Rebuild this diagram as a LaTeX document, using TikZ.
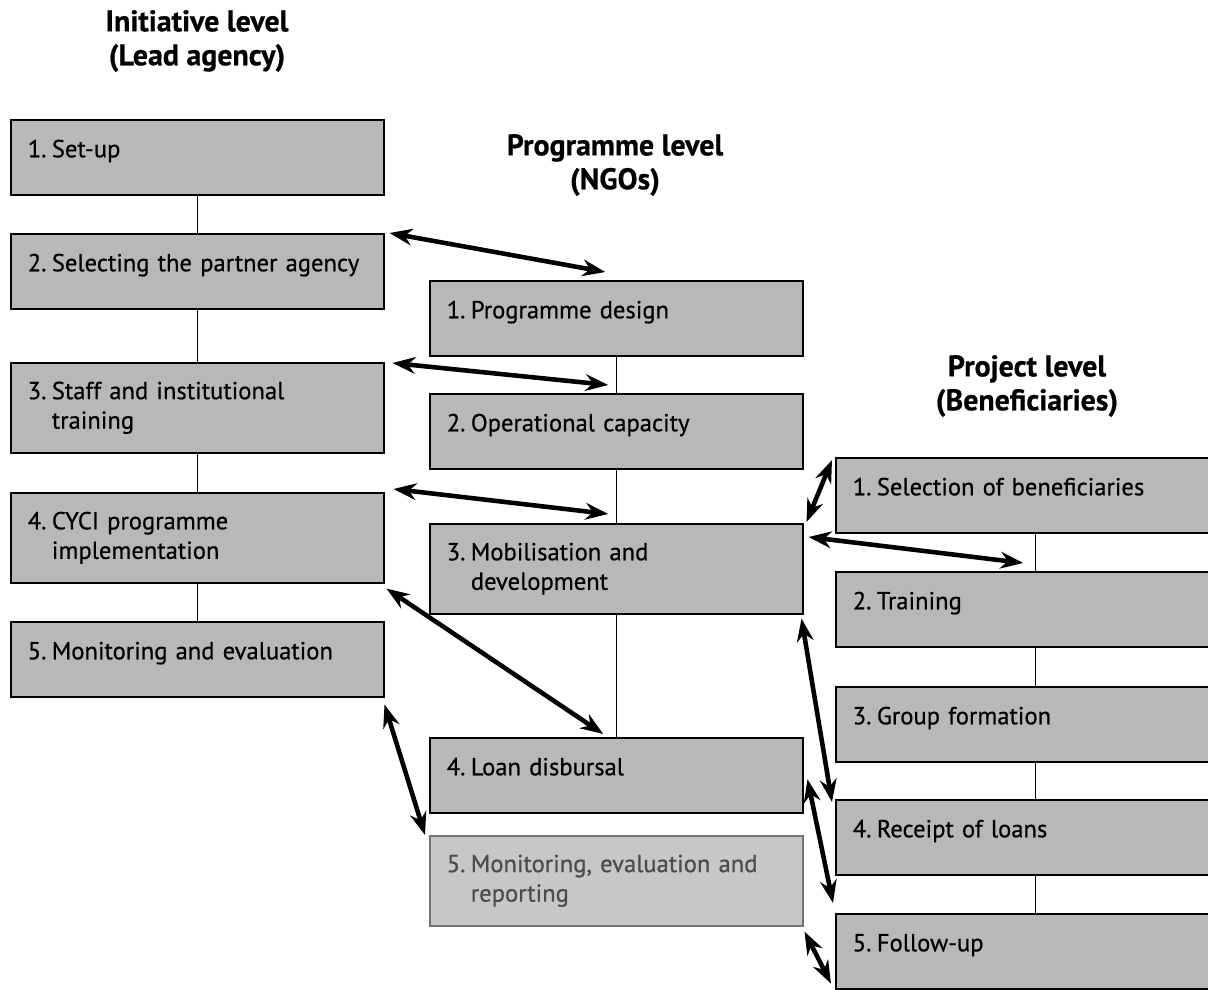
\documentclass[tikz,border=0pt]{standalone}
\usepackage{fontspec}
\setmainfont{PT Sans}[FakeBold=0.6]
\usetikzlibrary{arrows.meta,calc}
\definecolor{boxgray}{gray}{0.72}
\newcommand\stagenr[1]{#1.\hspace{0.22em}}
\tikzset{
  stage/.style={draw, line width=0.9pt, fill=boxgray, anchor=north west,
    minimum width=7.46cm, minimum height=1.5cm, text width=6.78cm,
    inner xsep=0.34cm, inner ysep=2pt, align=left,
    font=\fontsize{14}{16.8}\selectfont},
  oneline/.style={text height=0.7em, text depth=0.7em},
  tall/.style={minimum height=1.8cm},
  level/.style={align=center, font=\fontsize{17}{19.3}\selectfont\bfseries},
  stepline/.style={line width=0.6pt},
  link/.style={line width=2.6pt, {Stealth[length=13pt,width=9.5pt]}-{Stealth[length=13pt,width=9.5pt]}}
}
\begin{document}
\begin{tikzpicture}[x=0.02cm, y=-0.02cm]
\useasboundingbox (0,0) rectangle (1208,990);
\node[level] (tinit) at (197,41) {Initiative level\\(Lead agency)};
\node[level] (tprog) at (615,165) {Programme level\\(NGOs)};
\node[level] (tproj) at (1027,386) {Project level\\(Beneficiaries)};
% initiative level
\node[stage, oneline] (l1) at (10,119) {\stagenr{1}Set-up};
\node[stage, oneline] (l2) at (10,233) {\stagenr{2}Selecting the partner agency};
\node[stage, tall] (l3) at (10,362) {\stagenr{3}Staff and institutional\\\hphantom{\stagenr{3}}training};
\node[stage, tall] (l4) at (10,492) {\stagenr{4}CYCI programme\\\hphantom{\stagenr{4}}implementation};
\node[stage, oneline] (l5) at (10,621) {\stagenr{5}Monitoring and evaluation};
% programme level
\node[stage, oneline] (m1) at (429,280) {\stagenr{1}Programme design};
\node[stage, oneline] (m2) at (429,393) {\stagenr{2}Operational capacity};
\node[stage, tall] (m3) at (429,523) {\stagenr{3}Mobilisation and\\\hphantom{\stagenr{3}}development};
\node[stage, oneline] (m4) at (429,737) {\stagenr{4}Loan disbursal};
\node[stage, tall, fill=black!22, draw=black!55, text=black!70] (m5) at (429,835) {\stagenr{5}Monitoring, evaluation and\\\hphantom{\stagenr{5}}reporting};
% project level
\node[stage, oneline] (r1) at (835,457) {\stagenr{1}Selection of beneficiaries};
\node[stage, oneline] (r2) at (835,571) {\stagenr{2}Training};
\node[stage, oneline] (r3) at (835,686) {\stagenr{3}Group formation};
\node[stage, oneline] (r4) at (835,799) {\stagenr{4}Receipt of loans};
\node[stage, oneline] (r5) at (835,913) {\stagenr{5}Follow-up};
\draw[stepline] (l1) -- (l2);
\draw[stepline] (l2) -- (l3);
\draw[stepline] (l3) -- (l4);
\draw[stepline] (l4) -- (l5);
\draw[stepline] (m1) -- (m2);
\draw[stepline] (m2) -- (m3);
\draw[stepline] (m3) -- (m4);
\draw[stepline] ([xshift=0.27cm]r1.south) -- ([xshift=0.27cm]r2.north);
\draw[stepline] ([xshift=0.27cm]r2.south) -- ([xshift=0.27cm]r3.north);
\draw[stepline] ([xshift=0.27cm]r3.south) -- ([xshift=0.27cm]r4.north);
\draw[stepline] ([xshift=0.27cm]r4.south) -- ([xshift=0.27cm]r5.north);
\draw[link] ($(l2.north east)+(5,0)$) -- ($(m1.north)+(-11,-8)$);
\draw[link] ($(l3.north east)+(8,1)$) -- ($(m2.north)+(-8,-8)$);
\draw[link] ($(l4.north east)+(9,-3)$) -- ($(m3.north)+(-8,-9)$);
\draw[link] ($(l4.south east)+(2,5)$) -- ($(m4.north)+(-13,-3)$);
\draw[link] ($(l5.south east)+(0,7)$) -- ($(m5.north west)+(-4,0)$);
\draw[link] ($(m3.north east)+(3,-1)$) -- ($(r1.north west)+(-3,3)$);
\draw[link] ($(m3.north east)+(5,14)$) -- ($(r2.north)+(1,-8)$);
\draw[link] ($(m3.south east)+(-2,4)$) -- ($(r4.north west)+(-3,3)$);
\draw[link] ($(m4.east)+(4,4)$) -- ($(r5.north west)+(-2,-10)$);
\draw[link] ($(m5.south east)+(1,5)$) -- ($(r5.south west)+(-4,-6)$);
\end{tikzpicture}
\end{document}
